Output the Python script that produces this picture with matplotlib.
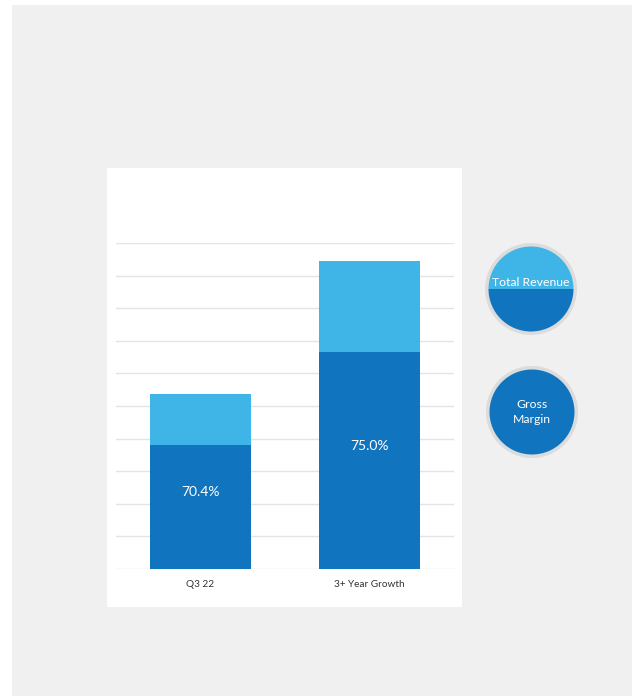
import matplotlib
matplotlib.use("Agg")
import matplotlib.pyplot as plt
from matplotlib.patches import Rectangle, Circle, Wedge

categories = ["Q3 22", "3+ Year Growth"]
gross_margin = [3.80, 6.65]      # dark segment
revenue_rest = [1.58, 2.80]      # light segment on top
labels = ["70.4%", "75.0%"]
legend_items = ["Total Revenue", "Gross\nMargin"]

DARK = "#1174be"
LIGHT = "#3fb4e6"
BG = "#f0f0f0"
GRID = "#e4e4e4"
FONT = ["Lato", "DejaVu Sans"]

W, H = 639, 696
fig = plt.figure(figsize=(W / 100, H / 100), dpi=100)
fig.patch.set_facecolor("white")

def fx(px):
    return px / W

def fy(py):
    return 1 - py / H

# background panels
fig.patches.append(Rectangle((fx(12), 0), fx(632) - fx(12), fy(5), transform=fig.transFigure,
                             facecolor=BG, edgecolor="none", zorder=-2))
fig.patches.append(Rectangle((fx(107), fy(607)), fx(462) - fx(107), fy(168) - fy(607),
                             transform=fig.transFigure, facecolor="white", edgecolor="none", zorder=-1))

# main bar chart
ax = fig.add_axes([fx(116), fy(569), fx(454) - fx(116), fy(243) - fy(569)])
ax.set_facecolor("none")
x = list(range(len(categories)))
ax.bar(x, gross_margin, width=0.6, color=DARK, zorder=3)
ax.bar(x, revenue_rest, width=0.6, bottom=gross_margin, color=LIGHT, zorder=3)
for xi, g, lab in zip(x, gross_margin, labels):
    ax.text(xi, g / 2 + 0.45, lab, ha="center", va="center", color="white",
            fontsize=10, family=FONT, zorder=4)
ax.set_xlim(-0.5, 1.5)
ax.set_ylim(0, 10)
ax.set_yticks(range(0, 11))
ax.yaxis.grid(True, color=GRID, linewidth=1, zorder=0)
ax.set_axisbelow(True)
ax.set_yticklabels([])
ax.tick_params(axis="y", length=0)
ax.set_xticks(x)
ax.set_xticklabels(categories, fontsize=7.2, family=FONT, color="#333333")
ax.tick_params(axis="x", length=0, pad=8)
for s in ax.spines.values():
    s.set_visible(False)

# legend circles
ov = fig.add_axes([0, 0, 1, 1])
ov.set_xlim(0, W)
ov.set_ylim(H, 0)
ov.axis("off")
ov.set_facecolor("none")

c1 = (531, 289)
ov.add_patch(Circle(c1, 46, facecolor="#dcdcdc", edgecolor="none"))
ov.add_patch(Wedge(c1, 42.5, 180, 360, facecolor=LIGHT, edgecolor="none"))
ov.add_patch(Wedge(c1, 42.5, 0, 180, facecolor=DARK, edgecolor="none"))
ov.text(c1[0], c1[1] - 6, legend_items[0], ha="center", va="center", color="white",
        fontsize=8.8, family=FONT)

c2 = (532, 412)
ov.add_patch(Circle(c2, 46, facecolor="#dcdcdc", edgecolor="none"))
ov.add_patch(Circle(c2, 42.5, facecolor=DARK, edgecolor="none"))
ov.text(c2[0], c2[1], legend_items[1], ha="center", va="center", color="white",
        fontsize=8.8, family=FONT, linespacing=1.5)

fig.savefig("out.png", dpi=100)
